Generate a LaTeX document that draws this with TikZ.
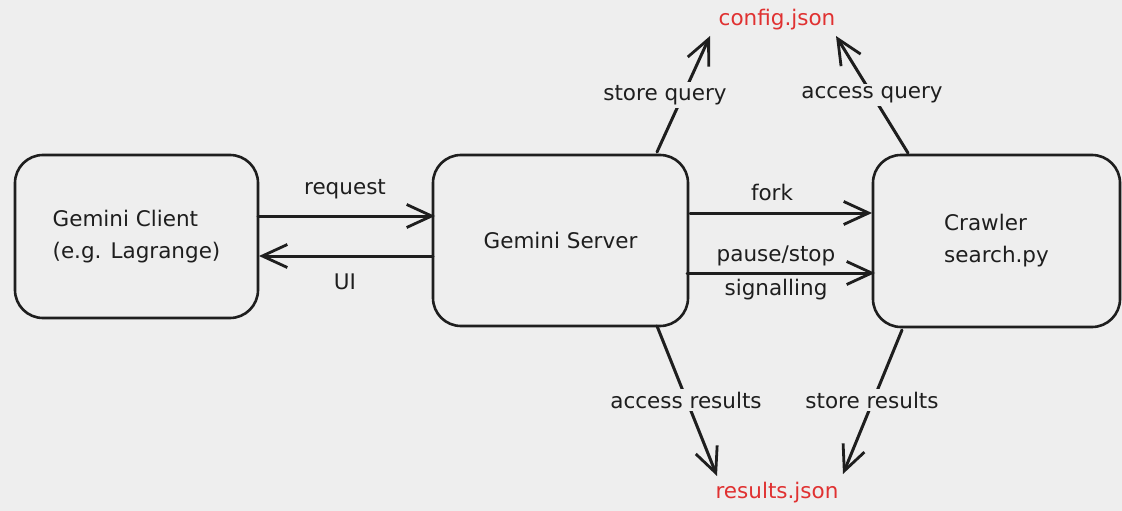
\documentclass[tikz,border=0pt]{standalone}
\usepackage{fontspec}
\setmainfont{DejaVu Sans}
\usetikzlibrary{arrows.meta}
\definecolor{bgc}{HTML}{EEEEEE}
\definecolor{ink}{HTML}{1E1E1E}
\definecolor{redt}{HTML}{E03131}
\pgfdeclarelayer{back}
\pgfdeclarelayer{lines}
\pgfsetlayers{back,lines,main}
\begin{document}
\begin{tikzpicture}[x=1pt,y=-1pt,
  every node/.style={font=\fontsize{21.5}{32}\selectfont, text=ink},
  box/.style={draw=ink, line width=2.6pt, rounded corners=28pt, align=left, inner sep=0pt},
  lbl/.style={fill=bgc, inner sep=3pt},
  plainlbl/.style={inner sep=1pt},
  file/.style={text=redt, inner sep=1pt},
  conn/.style={draw=ink, line width=3pt, line cap=round,
    -{Straight Barb[length=25pt,width=23pt,line width=2.8pt]}}
]
\useasboundingbox (0,0) rectangle (1122,511);
\begin{pgfonlayer}{back}
  \fill[bgc] (0,0) rectangle (1122,511);
\end{pgfonlayer}

% boxes
\node[box, minimum width=243pt, minimum height=163pt] (client) at (136.5,236.5)
  {Gemini Client\\(e.g. Lagrange)};
\node[box, minimum width=255pt, minimum height=171pt] (server) at (560.5,240.5)
  {Gemini Server};
\node[box, minimum width=247pt, minimum height=172pt] (crawler) at (996.5,241)
  {Crawler\\search.py};

% files
\node[file] (config) at (777,20) {config.json};
\node[file] (results) at (777,493) {results.json};

% labels
\node[plainlbl] (lreq) at (345,189) {request};
\node[plainlbl] (lui) at (345,282) {UI};
\node[plainlbl] (lfork) at (772,192) {fork};
\node[plainlbl] (lpause) at (776,256) {pause/stop};
\node[plainlbl] (lsig) at (776,290) {signalling};
\node[lbl] (lsq) at (665,95) {store query};
\node[lbl] (laq) at (872,95) {access query};
\node[lbl] (lar) at (686,400) {access results};
\node[lbl] (lsr) at (872,400) {store results};

% connector end points
\coordinate (reqA) at (258,216);  \coordinate (reqB) at (435,216);
\coordinate (uiA) at (433,256);   \coordinate (uiB) at (259,256);
\coordinate (forkA) at (690,213); \coordinate (forkB) at (872,213);
\coordinate (psA) at (687,273);   \coordinate (psB) at (875,273);
\coordinate (sqA) at (657,152);   \coordinate (sqB) at (710,36);
\coordinate (aqA) at (908,153);   \coordinate (aqB) at (836,36);
\coordinate (arA) at (657,326);   \coordinate (arB) at (717,476);
\coordinate (srA) at (902,330);   \coordinate (srB) at (843,474);

\begin{pgfonlayer}{lines}
  \draw[conn] (reqA) -- (reqB);
  \draw[conn] (uiA) -- (uiB);
  \draw[conn] (forkA) -- (forkB);
  \draw[conn] (psA) -- (psB);
  \draw[conn] (sqA) -- (sqB);
  \draw[conn] (aqA) -- (aqB);
  \draw[conn] (arA) -- (arB);
  \draw[conn] (srA) -- (srB);
\end{pgfonlayer}
\end{tikzpicture}
\end{document}
